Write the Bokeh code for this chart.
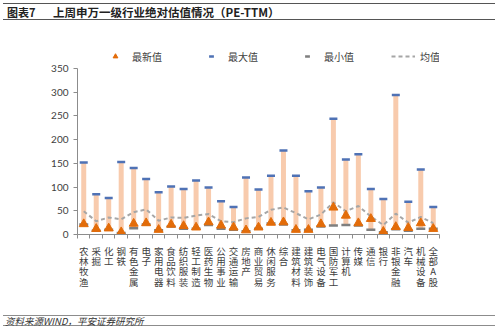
from bokeh.plotting import figure
from bokeh.models import Range1d, FixedTicker, Legend, LegendItem, Div, ColumnDataSource
from bokeh.layouts import column
from bokeh.embed import file_html
from bokeh.resources import INLINE

categories = ["农林牧渔", "采掘", "化工", "钢铁", "有色金属", "电子", "家用电器", "食品饮料",
              "纺织服装", "轻工制造", "医药生物", "公用事业", "交通运输", "房地产", "商业贸易",
              "休闲服务", "综合", "建筑材料", "建筑装饰", "电气设备", "国防军工", "计算机", "传媒",
              "通信", "银行", "非银金融", "汽车", "机械设备", "全部A股"]
max_v = [152, 85, 77, 153, 140, 117, 89, 101, 96, 114, 99, 70, 58, 120, 95,
         124, 177, 124, 91, 99, 244, 158, 169, 96, 75, 294, 69, 137, 58]
min_v = [21, 8, 10, 3, 13, 21, 9, 17, 12, 12, 20, 12, 10, 7, 12,
         23, 21, 9, 10, 17, 19, 20, 19, 10, 5, 11, 8, 12, 12]
latest_v = [22, 12, 13, 5, 23, 24, 10, 21, 18, 15, 26, 19, 15, 9, 15,
            25, 26, 10, 10, 22, 57, 40, 24, 33, 6, 16, 14, 24, 12]
mean_v = [49, 28, 36, 32, 47, 53, 29, 36, 35, 40, 43, 28, 26, 34, 37,
          52, 57, 45, 32, 42, 68, 49, 60, 38, 20, 44, 25, 37, 24]
y_ticks = [0, 50, 100, 150, 200, 250, 300, 350]
legend_labels = ["最新值", "最大值", "最小值", "均值"]
title_no = "图表7"
title_text = "上周申万一级行业绝对估值情况（PE-TTM）"
source_text = "资料来源WIND，平安证券研究所"

CJK = "'Noto Sans CJK SC'"
NUM = "Lato, 'Noto Sans CJK SC'"

xs = list(range(len(categories)))
src = ColumnDataSource(dict(x=xs, mx=max_v, mn=min_v, lt=latest_v, mean=mean_v))

# frame: 190 px tall, the axis (0..350) occupies the lower 166 px; the rest holds the legend
p = figure(width=499, height=288, output_backend="svg", toolbar_location=None,
           x_range=Range1d(-0.5, len(categories) - 0.5), y_range=Range1d(0, 350 * 190 / 166),
           min_border_left=77, min_border_right=60, min_border_top=20, min_border_bottom=78)
p.outline_line_color = None
p.grid.visible = False
p.background_fill_color = "white"
p.border_fill_color = "white"

p.vbar(x="x", bottom="mn", top="mx", width=0.4, fill_color="#F8CBAD", line_color=None, source=src)
r_mean = p.line("x", "mean", source=src, line_color="#A6A6A6", line_width=2, line_dash="4 3")
r_max = p.scatter("x", "mx", marker="dash", size=8, line_color="#4F72B5", line_width=2.5, source=src)
r_min = p.scatter("x", "mn", marker="dash", size=9, line_color="#7F7F7F", line_width=2.5, source=src)
r_lat = p.scatter("x", "lt", marker="triangle", size=9, fill_color="#E36C09", line_color="#E36C09", source=src)

xa = p.xaxis[0]
xa.ticker = FixedTicker(ticks=xs, minor_ticks=[i - 0.5 for i in range(len(categories) + 1)])
xa.major_label_overrides = {i: "\n".join(c) for i, c in enumerate(categories)}
xa.major_tick_out = 0
xa.major_tick_in = 0
xa.minor_tick_out = 4
xa.minor_tick_in = 0
xa.axis_line_color = "#8C8C8C"
xa.minor_tick_line_color = "#8C8C8C"
xa.major_label_text_font = CJK
xa.major_label_text_font_size = "9.5px"
xa.major_label_text_color = "#404040"
xa.major_label_text_line_height = 0.74
xa.major_label_standoff = 5

ya = p.yaxis[0]
ya.bounds = (0, 350)
ya.ticker = FixedTicker(ticks=y_ticks)
ya.major_tick_out = 4
ya.major_tick_in = 0
ya.minor_tick_out = 0
ya.minor_tick_in = 0
ya.axis_line_color = "#8C8C8C"
ya.major_tick_line_color = "#8C8C8C"
ya.major_label_text_font = NUM
ya.major_label_text_font_size = "10px"
ya.major_label_text_color = "#404040"
ya.major_label_standoff = 5

legend = Legend(items=[LegendItem(label=legend_labels[0], renderers=[r_lat]),
                       LegendItem(label=legend_labels[1], renderers=[r_max]),
                       LegendItem(label=legend_labels[2], renderers=[r_min]),
                       LegendItem(label=legend_labels[3], renderers=[r_mean])],
                orientation="horizontal", location=(26, 170), glyph_width=24, glyph_height=12,
                label_standoff=5, spacing=37, padding=0, margin=0, border_line_color=None,
                background_fill_alpha=0, label_text_font=CJK, label_text_font_size="10px",
                label_text_color="#404040", label_height=16)
p.add_layout(legend)

title = Div(text=(
    '<div style="padding-top:3px;width:499px;">'
    '<div style="margin-left:3px;width:492px;height:17px;border-top:1px solid #555;'
    'border-bottom:1px solid #555;font-family:' + CJK + ';font-weight:bold;font-size:11px;'
    'color:#222;line-height:17px;white-space:nowrap;">'
    '<span style="display:inline-block;width:50px;padding-left:4px;">' + title_no + '</span>'
    '<span style="font-size:11.5px;">' + title_text + '</span></div></div>'),
    width=499, height=24, margin=0)

footer = Div(text=(
    '<div style="padding-top:3px;width:499px;">'
    '<div style="margin-left:3px;width:492px;height:11px;border-top:1.5px solid #8C8C8C;'
    'border-bottom:1.5px solid #8C8C8C;font-family:' + CJK + ';font-style:italic;font-size:9.5px;'
    'color:#333;line-height:11px;white-space:nowrap;padding-left:2px;">' + source_text +
    '</div></div>'),
    width=499, height=24, margin=0)

layout = column(title, p, footer, spacing=0)
open("out.html", "w").write(file_html(layout, INLINE))
